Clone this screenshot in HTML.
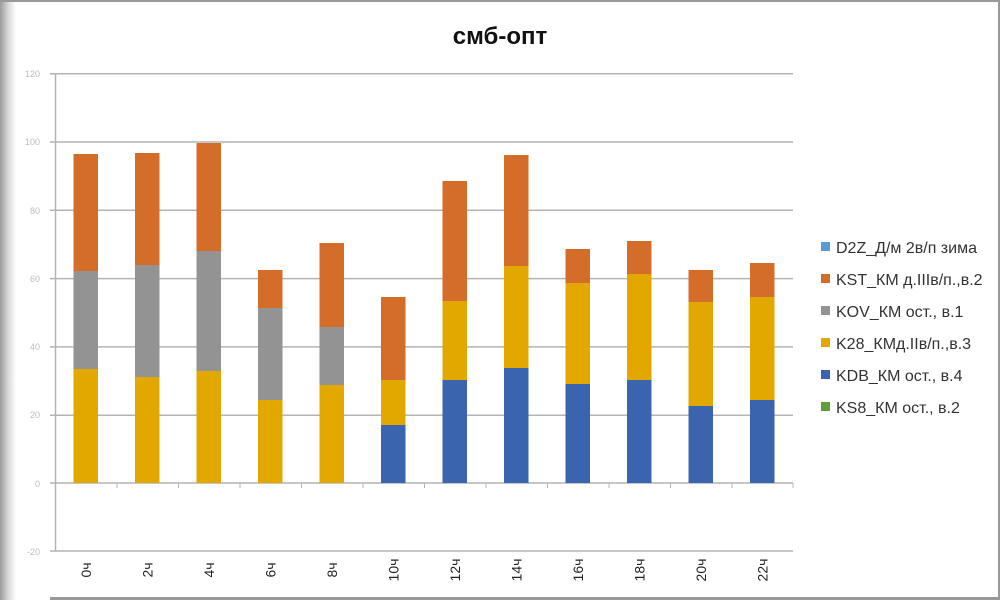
<!DOCTYPE html>
<html><head><meta charset="utf-8"><style>
html,body{margin:0;padding:0;background:#fff;}
svg{display:block;font-family:"Liberation Sans","DejaVu Sans",sans-serif;}
</style></head><body>
<svg width="1000" height="600" viewBox="0 0 1000 600">
<defs><linearGradient id="sh" x1="0" x2="1"><stop offset="0" stop-color="#9a9a9a"/><stop offset="0.5" stop-color="#d8d8d8"/><stop offset="1" stop-color="#fff"/></linearGradient></defs>
<rect width="1000" height="600" fill="#fff"/>
<rect x="0" y="0" width="16" height="600" fill="url(#sh)"/>
<line x1="0" y1="1" x2="1000" y2="1" stroke="#999" stroke-width="2"/>
<line x1="999" y1="0" x2="999" y2="600" stroke="#999" stroke-width="2"/>
<line x1="50" y1="598.5" x2="1000" y2="598.5" stroke="#999" stroke-width="3"/>
<text x="500" y="44" font-size="24" font-weight="bold" text-anchor="middle" fill="#111">смб-опт</text>
<g stroke="#b4b4b4" stroke-width="1.5">
<line x1="50" y1="73.7" x2="793" y2="73.7"/>
<line x1="50" y1="142" x2="793" y2="142"/>
<line x1="50" y1="210.3" x2="793" y2="210.3"/>
<line x1="50" y1="278.6" x2="793" y2="278.6"/>
<line x1="50" y1="346.9" x2="793" y2="346.9"/>
<line x1="50" y1="415.2" x2="793" y2="415.2"/>
<line x1="50" y1="483" x2="793" y2="483"/>
<line x1="50" y1="551" x2="793" y2="551"/>
<line x1="55.5" y1="73" x2="55.5" y2="551"/>
</g>
<g stroke="#b4b4b4" stroke-width="1">
<line x1="117" y1="483" x2="117" y2="488"/><line x1="178.5" y1="483" x2="178.5" y2="488"/><line x1="240" y1="483" x2="240" y2="488"/><line x1="301.5" y1="483" x2="301.5" y2="488"/><line x1="363" y1="483" x2="363" y2="488"/><line x1="424.5" y1="483" x2="424.5" y2="488"/><line x1="486" y1="483" x2="486" y2="488"/><line x1="547.5" y1="483" x2="547.5" y2="488"/><line x1="609" y1="483" x2="609" y2="488"/><line x1="670.5" y1="483" x2="670.5" y2="488"/><line x1="732" y1="483" x2="732" y2="488"/><line x1="793" y1="483" x2="793" y2="488"/>
</g>
<g font-size="9" fill="#bbb" text-anchor="end">
<text x="40" y="77">120</text><text x="40" y="145">100</text><text x="40" y="214">80</text><text x="40" y="282">60</text><text x="40" y="350">40</text><text x="40" y="418">20</text><text x="40" y="487">0</text><text x="40" y="555">-20</text>
</g>
<g id="bars">
<rect x="73.5" y="369" width="24.5" height="114" fill="#E2A800"/><rect x="73.5" y="271" width="24.5" height="98" fill="#939393"/><rect x="73.5" y="154" width="24.5" height="117" fill="#D46D29"/>
<rect x="135" y="377" width="24.5" height="106" fill="#E2A800"/><rect x="135" y="265" width="24.5" height="112" fill="#939393"/><rect x="135" y="153" width="24.5" height="112" fill="#D46D29"/>
<rect x="196.5" y="371" width="24.5" height="112" fill="#E2A800"/><rect x="196.5" y="251" width="24.5" height="120" fill="#939393"/><rect x="196.5" y="143" width="24.5" height="108" fill="#D46D29"/>
<rect x="258" y="400" width="24.5" height="83" fill="#E2A800"/><rect x="258" y="308" width="24.5" height="92" fill="#939393"/><rect x="258" y="270" width="24.5" height="38" fill="#D46D29"/>
<rect x="319.5" y="385" width="24.5" height="98" fill="#E2A800"/><rect x="319.5" y="327" width="24.5" height="58" fill="#939393"/><rect x="319.5" y="243" width="24.5" height="84" fill="#D46D29"/>
<rect x="381" y="425" width="24.5" height="58" fill="#3B64AE"/><rect x="381" y="380" width="24.5" height="45" fill="#E2A800"/><rect x="381" y="297" width="24.5" height="83" fill="#D46D29"/>
<rect x="442.5" y="380" width="24.5" height="103" fill="#3B64AE"/><rect x="442.5" y="301" width="24.5" height="79" fill="#E2A800"/><rect x="442.5" y="181" width="24.5" height="120" fill="#D46D29"/>
<rect x="504" y="368" width="24.5" height="115" fill="#3B64AE"/><rect x="504" y="266" width="24.5" height="102" fill="#E2A800"/><rect x="504" y="155" width="24.5" height="111" fill="#D46D29"/>
<rect x="565.5" y="384" width="24.5" height="99" fill="#3B64AE"/><rect x="565.5" y="283" width="24.5" height="101" fill="#E2A800"/><rect x="565.5" y="249" width="24.5" height="34" fill="#D46D29"/>
<rect x="627" y="380" width="24.5" height="103" fill="#3B64AE"/><rect x="627" y="274" width="24.5" height="106" fill="#E2A800"/><rect x="627" y="241" width="24.5" height="33" fill="#D46D29"/>
<rect x="688.5" y="406" width="24.5" height="77" fill="#3B64AE"/><rect x="688.5" y="302" width="24.5" height="104" fill="#E2A800"/><rect x="688.5" y="270" width="24.5" height="32" fill="#D46D29"/>
<rect x="750" y="400" width="24.5" height="83" fill="#3B64AE"/><rect x="750" y="297" width="24.5" height="103" fill="#E2A800"/><rect x="750" y="263" width="24.5" height="34" fill="#D46D29"/>
</g>
<g font-size="14" fill="#222" text-anchor="middle">
<text transform="translate(91,570) rotate(-90)">0ч</text>
<text transform="translate(152.5,570) rotate(-90)">2ч</text>
<text transform="translate(214,570) rotate(-90)">4ч</text>
<text transform="translate(275.5,570) rotate(-90)">6ч</text>
<text transform="translate(337,570) rotate(-90)">8ч</text>
<text transform="translate(398.5,570) rotate(-90)">10ч</text>
<text transform="translate(460,570) rotate(-90)">12ч</text>
<text transform="translate(521.5,570) rotate(-90)">14ч</text>
<text transform="translate(583,570) rotate(-90)">16ч</text>
<text transform="translate(644.5,570) rotate(-90)">18ч</text>
<text transform="translate(706,570) rotate(-90)">20ч</text>
<text transform="translate(767.5,570) rotate(-90)">22ч</text>
</g>
<g font-size="16" fill="#333">
<rect x="821" y="242" width="9" height="9" fill="#5B9BD5"/><text x="836" y="253">D2Z_Д/м 2в/п зима</text>
<rect x="821" y="274" width="9" height="9" fill="#D46D29"/><text x="836" y="285">KST_КМ д.IIIв/п.,в.2</text>
<rect x="821" y="306" width="9" height="9" fill="#939393"/><text x="836" y="317">KOV_КМ ост., в.1</text>
<rect x="821" y="338" width="9" height="9" fill="#E2A800"/><text x="836" y="349">K28_КМд.IIв/п.,в.3</text>
<rect x="821" y="370" width="9" height="9" fill="#3B64AE"/><text x="836" y="381">KDB_КМ ост., в.4</text>
<rect x="821" y="402" width="9" height="9" fill="#5E9E3C"/><text x="836" y="413">KS8_КМ ост., в.2</text>
</g>
</svg>
</body></html>
